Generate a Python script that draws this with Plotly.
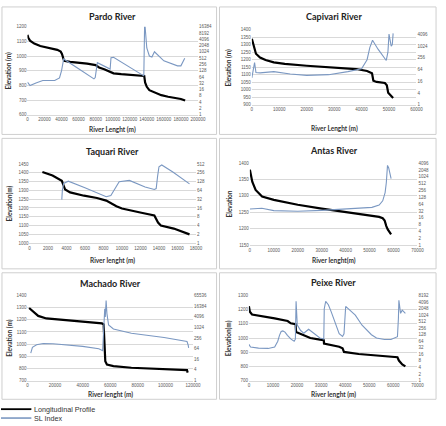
import plotly.graph_objects as go
import math

# ---------------- DATA ----------------
titles = ["Pardo River", "Capivari River", "Taquari River", "Antas River", "Machado River", "Peixe River"]
xtitles = ["River Lenght (m)", "River Lenght (m)", "River lenght (m)", "River lenght(m)", "River lenght (m)", "River lenght (m)"]
ytitles = ["Elevation (m)", "Elevation (m)", "Elevation(m)", "Elevation", "Elevation (m)", "Elevation(m)"]
legend_labels = ["Longitudinal Profile", "SL Index"]

pardo_x = [0, 1000, 3000, 8000, 15000, 25000, 35000, 39000, 40500, 42000, 43000, 50000, 60000, 70000, 80000, 84000, 90000, 97000, 101000, 110000, 120000, 130000, 137000, 138000, 140000, 143000, 150000, 157000, 165000, 172000, 180000, 185000]
pardo_elev = [1144, 1125, 1105, 1085, 1068, 1055, 1042, 1030, 1015, 985, 967, 960, 955, 948, 938, 922, 910, 893, 882, 876, 871, 867, 864, 820, 790, 767, 750, 733, 722, 714, 707, 696]
pardo_sl_x = [0, 3000, 10000, 18000, 32000, 37600, 40000, 41500, 42500, 60000, 78000, 79500, 82000, 97000, 98000, 101000, 136500, 137500, 138500, 140000, 143000, 146000, 149000, 160000, 176000, 180000, 184500]
pardo_sl = [36, 25, 33, 43, 43, 58, 128, 378, 466, 158, 52, 60, 311, 153, 530, 557, 72, 30000, 6000, 1570, 645, 576, 1030, 378, 218, 218, 498]

capivari_x = [0, 300, 800, 1500, 3000, 5000, 8000, 12000, 20000, 30000, 38000, 42000, 43800, 44300, 45500, 48500, 49200, 49700, 50500, 51500]
capivari_elev = [1340, 1320, 1270, 1240, 1215, 1198, 1182, 1172, 1160, 1150, 1138, 1125, 1110, 1060, 1052, 1045, 1030, 980, 965, 945]
capivari_sl_x = [0, 500, 1000, 1500, 3000, 8000, 14000, 20000, 28000, 35000, 40000, 42000, 43000, 44000, 46000, 49000, 49600, 50000, 50800, 51200, 51500]
capivari_sl = [24, 71, 144, 45, 43, 50, 38, 32, 35, 50, 71, 205, 849, 2050, 710, 187, 498, 4200, 1010, 1210, 4580]

taquari_x = [1400, 2500, 3500, 3700, 3860, 4400, 5900, 7300, 8300, 9400, 10000, 12100, 13500, 13900, 14200, 15600, 17300]
taquari_elev = [1405, 1385, 1355, 1322, 1305, 1289, 1270, 1257, 1242, 1210, 1197, 1173, 1158, 1117, 1100, 1083, 1050]
taquari_sl_x = [3500, 3560, 3700, 4200, 6000, 8300, 8800, 9300, 9700, 10800, 12500, 13500, 13700, 13850, 14000, 14300, 15500, 17300]
taquari_sl = [31, 64, 111, 133, 79, 39, 43, 84, 128, 141, 84, 69, 74, 194, 416, 478, 274, 107]

antas_x = [0, 500, 1000, 2400, 5100, 10000, 20000, 30000, 40000, 50000, 54000, 55500, 56300, 57000, 57600, 59000]
antas_elev = [1380, 1360, 1343, 1318, 1298, 1288, 1273, 1261, 1250, 1240, 1236, 1232, 1225, 1208, 1198, 1183]
antas_sl_x = [0, 5000, 10000, 20000, 30000, 40000, 47000, 51000, 54000, 55500, 56500, 57000, 57500, 58000, 59000]
antas_sl = [39, 42, 33, 31, 34, 39, 42, 46, 58, 89, 205, 556, 3240, 2490, 857]

machado_x = [1200, 4300, 7800, 13700, 28000, 40000, 51700, 54000, 55200, 55900, 56400, 57600, 62300, 75300, 99000, 115600, 116100]
machado_elev = [1297, 1265, 1232, 1211, 1197, 1189, 1178, 1170, 1162, 995, 859, 832, 819, 805, 792, 786, 765]
machado_sl_x = [2400, 3600, 6600, 11400, 18500, 40000, 51700, 54500, 55000, 55500, 56000, 56400, 57000, 57600, 58800, 62300, 75300, 99000, 115600, 116500, 116800]
machado_sl = [36, 76, 107, 125, 122, 86, 63, 49, 310, 3000, 11800, 4030, 34300, 6200, 1400, 826, 474, 273, 164, 100, 70]

peixe_x = [0, 400, 1300, 5400, 10700, 16100, 17400, 19400, 19600, 22800, 25500, 29500, 31100, 31200, 34200, 37500, 38900, 39500, 45600, 55000, 61700, 62300, 63700, 65000]
peixe_elev = [1224, 1185, 1166, 1155, 1139, 1120, 1104, 1097, 1042, 1019, 1000, 989, 984, 961, 952, 938, 927, 902, 887, 871, 864, 841, 814, 800]
peixe_sl_x = [0, 700, 4000, 8000, 10700, 11500, 12000, 12700, 13400, 14100, 15000, 16000, 17500, 18800, 19300, 19600, 20100, 21500, 22800, 24800, 27500, 29500, 31100, 31300, 31900, 33000, 34200, 35500, 36500, 37500, 38900, 39500, 40200, 42000, 44200, 47000, 50900, 53000, 56300, 59000, 61000, 61700, 62100, 62300, 63000, 63700, 65000]
peixe_sl = [46, 35, 31, 30, 35, 48, 64, 120, 181, 192, 170, 120, 80, 64, 80, 4430, 355, 200, 151, 229, 140, 91, 82, 2020, 4430, 3100, 1440, 550, 260, 142, 107, 140, 2580, 1670, 1015, 350, 128, 91, 77, 77, 91, 104, 719, 4900, 1235, 1720, 1235]

# axis ranges / ticks
x_ranges = [(0, 200000, 20000), (0, 60000, 10000), (0, 18000, 2000), (0, 70000, 10000), (0, 120000, 20000), (0, 70000, 10000)]
y_ranges = [(600, 1200, 100), (900, 1400, 50), (1000, 1450, 50), (1150, 1400, 50), (700, 1400, 100), (700, 1300, 100)]
sl_ticks = [
    [1, 2, 4, 8, 16, 32, 64, 128, 256, 512, 1024, 2048, 4096, 8192, 16384],
    [1, 4, 16, 64, 256, 1024, 4096],
    [1, 2, 4, 8, 16, 32, 64, 128, 256, 512],
    [1, 2, 4, 8, 16, 32, 64, 128, 256, 512, 1024, 2048, 4096],
    [1, 4, 16, 64, 256, 1024, 4096, 16384, 65536],
    [1, 2, 4, 8, 16, 32, 64, 128, 256, 512, 1024, 2048, 4096, 8192],
]
sl_top = [16384, 7100, 512, 4096, 65536, 8192]

series = [
    (pardo_x, pardo_elev, pardo_sl_x, pardo_sl),
    (capivari_x, capivari_elev, capivari_sl_x, capivari_sl),
    (taquari_x, taquari_elev, taquari_sl_x, taquari_sl),
    (antas_x, antas_elev, antas_sl_x, antas_sl),
    (machado_x, machado_elev, machado_sl_x, machado_sl),
    (peixe_x, peixe_elev, peixe_sl_x, peixe_sl),
]

# ---------------- LAYOUT ----------------
W, H = 446, 426
areas = [
    (27, 201, 25, 114),
    (256, 424, 28, 104),
    (29, 199, 164, 244),
    (254, 425, 163, 246),
    (27, 196, 297, 383),
    (253, 425, 297, 383),
]
boxes = [(1, 5, 220, 134), (223, 5, 444, 134), (1, 138, 220, 270), (223, 138, 444, 270), (1, 274, 220, 402), (223, 274, 444, 402)]
title_y = [15, 15, 151, 150, 285, 284]
xtitle_y = [129, 128, 262, 262, 397, 397]
ytitle_x = [8, 232, 9, 233, 8, 232]

def px(x):
    return x / W

def py(y):
    return 1 - y / H

BLACK = "#000000"
BLUE = "#7b98c2"
GRID = "#d9d9d9"
TICKC = "#595959"
FONT = "Liberation Sans"

fig = go.Figure()
layout = dict(
    width=W, height=H, margin=dict(l=0, r=0, t=0, b=0),
    paper_bgcolor="white", plot_bgcolor="white",
    showlegend=False,
    font=dict(family=FONT),
)
annotations = []
shapes = []

for i in range(6):
    n = i + 1
    sfx = "" if n == 1 else str(n)
    xa = "xaxis" + sfx
    ya = "yaxis" + sfx
    ya2n = n + 6
    ya2 = f"yaxis{ya2n}"
    l, r, t, b = areas[i]
    x0, x1, xs = x_ranges[i]
    y0, y1, ys = y_ranges[i]
    layout[xa] = dict(domain=[px(l), px(r)], anchor="y" + sfx, range=[x0, x1],
                      tickvals=list(range(x0, x1 + 1, xs)), tickformat="d", tickangle=0,
                      showgrid=False, zeroline=False, showline=True, linecolor=GRID, linewidth=1,
                      ticks="", tickfont=dict(size=4.5, color=TICKC, family=FONT))
    layout[ya] = dict(domain=[py(b), py(t)], anchor="x" + sfx, range=[y0, y1],
                      tickvals=list(range(y0, y1 + 1, ys)), showgrid=True, gridcolor=GRID, gridwidth=1,
                      zeroline=False, showline=False, ticks="", tickfont=dict(size=4.5, color=TICKC, family=FONT))
    tv = sl_ticks[i]
    layout[ya2] = dict(type="log", overlaying="y" + sfx, side="right", anchor="x" + sfx,
                       range=[0, math.log10(sl_top[i])], tickvals=tv, ticktext=[str(v) for v in tv],
                       showgrid=False, zeroline=False, showline=False, ticks="",
                       tickfont=dict(size=4.5, color=TICKC, family=FONT))
    ex, ev, sx, sv = series[i]
    fig.add_trace(go.Scatter(x=sx, y=sv, mode="lines", line=dict(color=BLUE, width=1.1),
                             xaxis="x" + sfx, yaxis=f"y{ya2n}", name=legend_labels[1]))
    fig.add_trace(go.Scatter(x=ex, y=ev, mode="lines", line=dict(color=BLACK, width=2.2),
                             xaxis="x" + sfx, yaxis="y" + sfx, name=legend_labels[0]))
    bx0, by0, bx1, by1 = boxes[i]
    shapes.append(dict(type="rect", xref="paper", yref="paper", x0=px(bx0), x1=px(bx1), y0=py(by1), y1=py(by0),
                       line=dict(color="#cfcfcf", width=1), fillcolor="rgba(0,0,0,0)", layer="below"))
    cx = (l + r) / 2
    annotations.append(dict(text=f"<b>{titles[i]}</b>", x=px(cx), y=py(title_y[i]), xref="paper", yref="paper",
                            showarrow=False, font=dict(size=9, color="#222222", family="Lato"), xanchor="center", yanchor="middle"))
    annotations.append(dict(text=f"<b>{xtitles[i]}</b>", x=px(cx), y=py(xtitle_y[i]), xref="paper", yref="paper",
                            showarrow=False, font=dict(size=6.5, color="#333333", family="Lato"), xanchor="center", yanchor="middle"))
    annotations.append(dict(text=f"<b>{ytitles[i]}</b>", x=px(ytitle_x[i]), y=py((t + b) / 2), xref="paper", yref="paper",
                            showarrow=False, textangle=-90, font=dict(size=6.5, color="#333333", family="Lato"),
                            xanchor="center", yanchor="middle"))

# legend (drawn manually to match the compact spacing)
leg = [(412, BLACK, 1.8, legend_labels[0]), (421, BLUE, 1.6, legend_labels[1])]
for yy, col, wd, lab in leg:
    shapes.append(dict(type="line", xref="paper", yref="paper", x0=px(0), x1=px(31), y0=py(yy), y1=py(yy),
                       line=dict(color=col, width=wd)))
    annotations.append(dict(text=lab, x=px(32), y=py(yy), xref="paper", yref="paper", showarrow=False,
                            xanchor="left", yanchor="middle", font=dict(size=7.2, color="#333333", family=FONT)))

layout["annotations"] = annotations
layout["shapes"] = shapes
fig.update_layout(**layout)
fig.write_html("out.html")
